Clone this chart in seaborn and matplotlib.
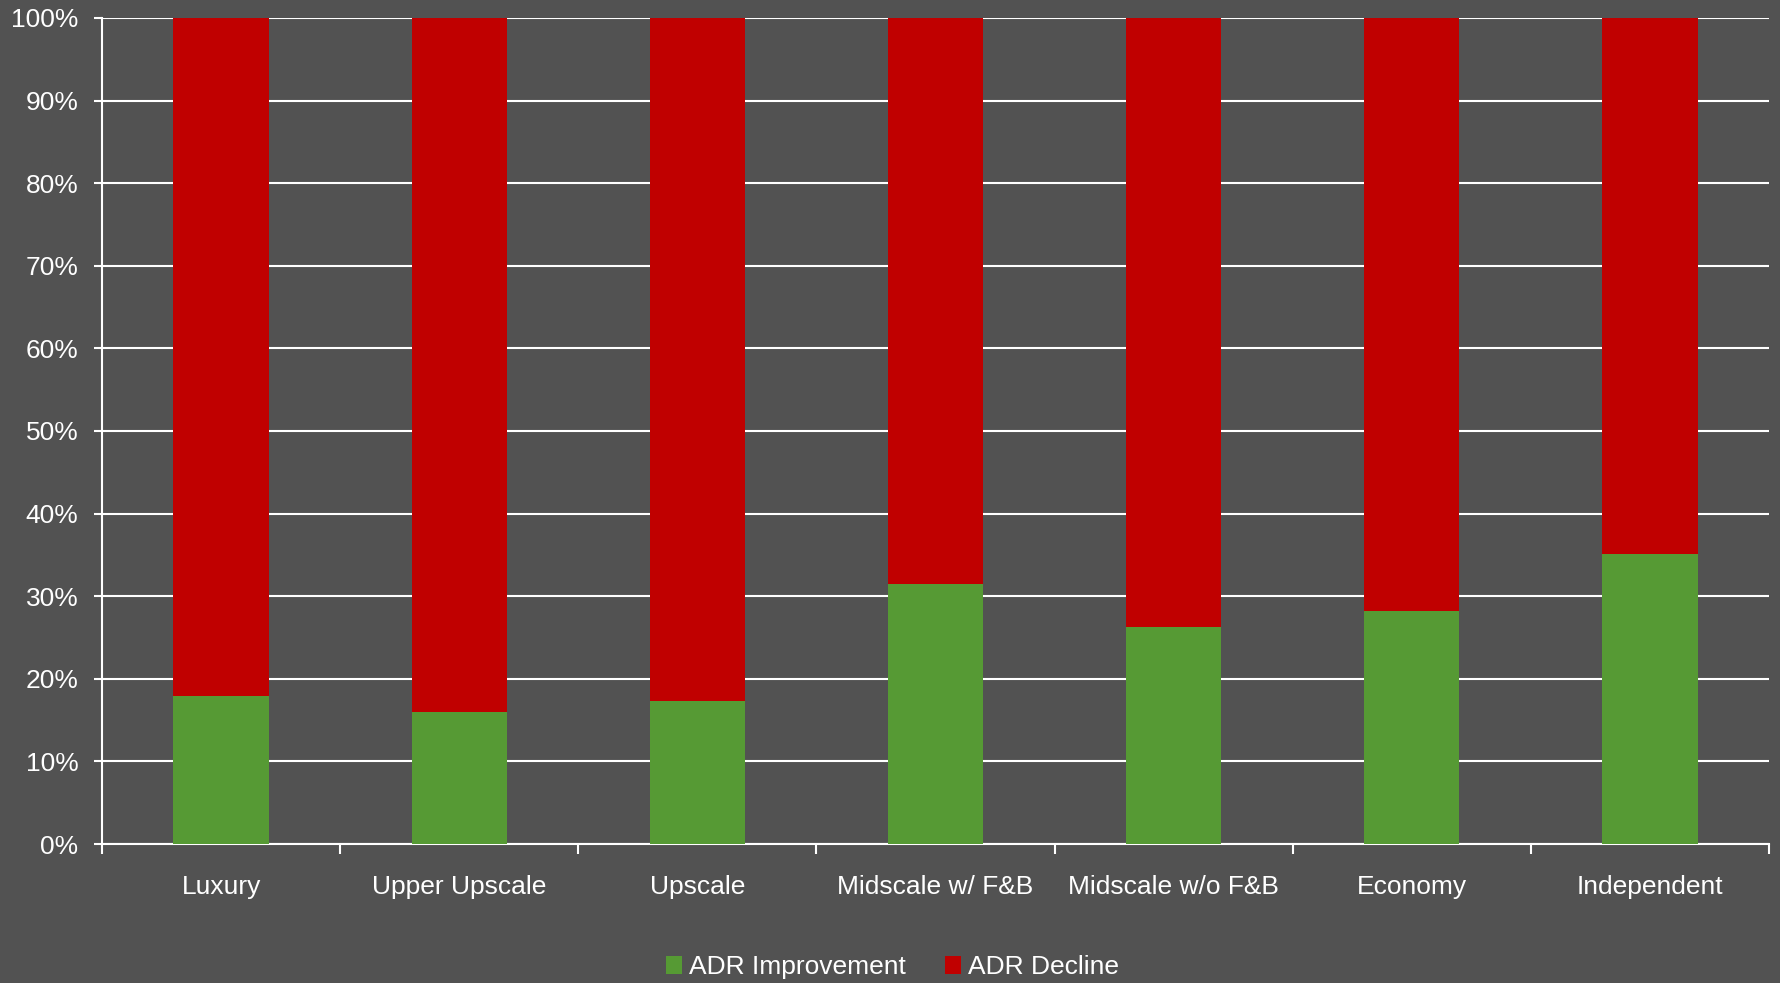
import matplotlib
matplotlib.use("Agg")
import matplotlib.pyplot as plt
from matplotlib.patches import Patch
from matplotlib.ticker import FixedLocator, PercentFormatter
import seaborn as sns
import pandas as pd

categories = ["Luxury", "Upper Upscale", "Upscale", "Midscale w/ F&B",
              "Midscale w/o F&B", "Economy", "Independent"]
adr_improvement = [17.9, 16.0, 17.3, 31.5, 26.3, 28.2, 35.1]
adr_decline = [100 - v for v in adr_improvement]
y_ticks = [0, 10, 20, 30, 40, 50, 60, 70, 80, 90, 100]

BG = "#525252"
GREEN = "#569A34"
RED = "#C00000"

sns.set_theme(style="dark")
plt.rcParams["font.family"] = ["Liberation Sans", "DejaVu Sans"]

df = pd.DataFrame({
    "category": categories,
    "improvement": adr_improvement,
    "total": [a + b for a, b in zip(adr_improvement, adr_decline)],
})

fig = plt.figure(figsize=(17.81, 9.83), dpi=100, facecolor=BG)
ax = fig.add_axes([0.0573, 0.1414, 0.936, 0.8403])
ax.set_facecolor(BG)

# stacked columns: full-height decline bar, improvement drawn over its base
sns.barplot(data=df, x="category", y="total", color=RED, width=0.4,
            saturation=1, linewidth=0, edgecolor="none", ax=ax, zorder=3)
sns.barplot(data=df, x="category", y="improvement", color=GREEN, width=0.4,
            saturation=1, linewidth=0, edgecolor="none", ax=ax, zorder=4)

ax.set_xlim(-0.5, len(categories) - 0.5)
ax.set_ylim(0, 100)
ax.set_yticks(y_ticks)
ax.yaxis.set_major_formatter(PercentFormatter(decimals=0))
ax.set_xlabel("")
ax.set_ylabel("")

ax.grid(axis="y", color="white", linewidth=1.5, zorder=0)
ax.grid(axis="x", visible=False)
ax.set_axisbelow(True)

for side in ("top", "right"):
    ax.spines[side].set_visible(False)
for side in ("left", "bottom"):
    ax.spines[side].set_color("white")
    ax.spines[side].set_linewidth(1.5)

# category separators as minor ticks on the x axis
ax.xaxis.set_minor_locator(FixedLocator([i - 0.5 for i in range(len(categories) + 1)]))
ax.tick_params(axis="x", which="minor", length=7, width=1.5, color="white",
               direction="out", bottom=True)
ax.tick_params(axis="x", which="major", length=0, pad=22, labelsize=19,
               labelcolor="white")
ax.tick_params(axis="y", which="major", length=6, width=1.5, color="white",
               direction="out", left=True, pad=11, labelsize=19,
               labelcolor="white")

handles = [Patch(facecolor=GREEN, edgecolor="none", label="ADR Improvement"),
           Patch(facecolor=RED, edgecolor="none", label="ADR Decline")]
leg = fig.legend(handles=handles, loc="center", bbox_to_anchor=(0.501, 0.016),
                 ncol=2, frameon=False, fontsize=19, handlelength=0.62,
                 handleheight=0.62, handletextpad=0.25, columnspacing=1.5)
for t in leg.get_texts():
    t.set_color("white")

fig.savefig("out.png", dpi=100, facecolor=BG)
